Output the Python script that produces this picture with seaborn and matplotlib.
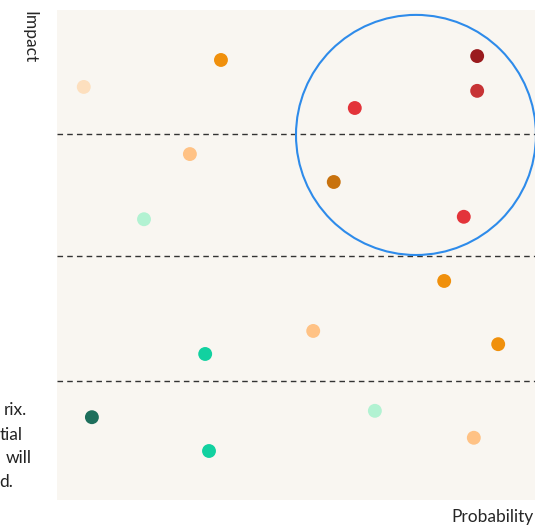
import matplotlib
matplotlib.use("Agg")
import matplotlib.pyplot as plt
from matplotlib.patches import Ellipse
import seaborn as sns
import pandas as pd

# risk points: probability (x), impact (y), colour
probability = [0.56, 3.43, 2.78, 1.82, 6.23, 8.79, 8.79, 5.79, 8.51,
               8.10, 5.36, 9.23, 3.10, 0.73, 3.18, 6.65, 8.72]
impact = [8.43, 8.98, 7.06, 5.73, 8.00, 9.06, 8.35, 6.49, 5.78,
          4.47, 3.45, 3.18, 2.98, 1.69, 1.00, 1.82, 1.27]
colours = ["#FDDFBE", "#F0900C", "#FFC285", "#B2F2D2", "#E3343A", "#9A1B1E",
           "#C73335", "#C8720E", "#E3343A", "#F0900C", "#FFC285", "#F0900C",
           "#12D1A0", "#1E6F5C", "#12D1A0", "#B2F2D2", "#FFC285"]

thresholds = [7.47, 4.98, 2.43]
focus_center = (7.51, 7.45)
focus_size = (5.02, 4.90)

# only the ends of the side note are visible in the reference
note_lines = ["rix.", "tial", "will", "d."]

df = pd.DataFrame({"probability": probability, "impact": impact, "colour": colours})

sns.set_style("white")
plt.rcParams["font.family"] = ["Lato", "DejaVu Sans"]

fig = plt.figure(figsize=(5.35, 5.25), dpi=100)
ax = fig.add_axes([57 / 535, 25 / 525, 478 / 535, 490 / 525])
ax.set_facecolor("#F9F6F1")

for t in thresholds:
    ax.axhline(t, color="#333333", linestyle=(0, (4, 3)), linewidth=1.0, zorder=1)

sns.scatterplot(data=df, x="probability", y="impact", hue="colour",
                palette={c: c for c in colours}, s=100, linewidth=0,
                legend=False, ax=ax, zorder=3)

ax.add_patch(Ellipse(focus_center, focus_size[0], focus_size[1], fill=False,
                     edgecolor="#2E8BEA", linewidth=1.5, zorder=2))

ax.set_xlim(0, 10)
ax.set_ylim(0, 10)
ax.set_xticks([])
ax.set_yticks([])
ax.set_xlabel("")
ax.set_ylabel("")
for s in ax.spines.values():
    s.set_visible(False)

fig.text(29 / 535, 1 - 11 / 525, "Impact", rotation=270, ha="center", va="top", fontsize=12.5)
fig.text(534 / 535, 1 - 517 / 525, "Probability", ha="right", va="center", fontsize=12.5)

line_y = [410, 435, 458, 482]
line_end = [27, 23, 32, 13]
for txt, py, px in zip(note_lines, line_y, line_end):
    fig.text(px / 535, 1 - py / 525, txt, ha="right", va="center", fontsize=12.5, color="#222222")

fig.savefig("out.png", dpi=100)
